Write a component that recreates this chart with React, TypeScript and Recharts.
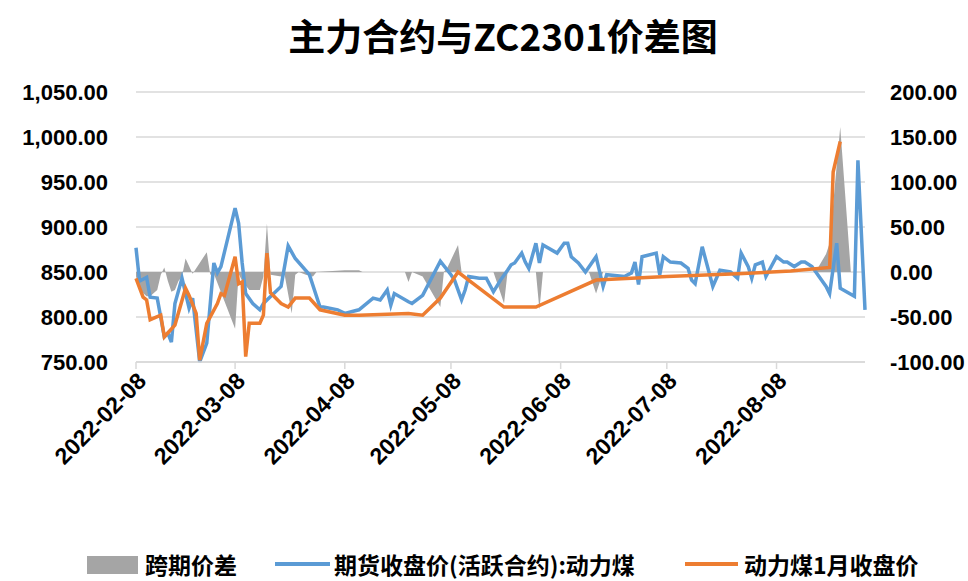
import React from 'react';
import { ComposedChart, Area, Line, XAxis, YAxis, CartesianGrid } from 'recharts';

// 期货收盘价(活跃合约):动力煤
const blueDates = [
  '02-08', '02-09', '02-11', '02-12', '02-14', '02-16', '02-17', '02-18', '02-19', '02-21',
  '02-23', '02-24', '02-26', '02-28', '03-02', '03-03', '03-04', '03-08', '03-09', '03-10',
  '03-11', '03-13', '03-15', '03-16', '03-17', '03-21', '03-23', '03-25', '03-29', '04-01',
  '04-02', '04-06', '04-08', '04-12', '04-16', '04-18', '04-20', '04-21', '04-22', '04-26',
  '04-27', '04-30', '05-05', '05-08', '05-09', '05-11', '05-12', '05-13', '05-16', '05-18',
  '05-20', '05-22', '05-24', '05-25', '05-26', '05-28', '05-29', '05-30', '06-01', '06-02',
  '06-03', '06-07', '06-09', '06-10', '06-11', '06-13', '06-15', '06-18', '06-20', '06-21',
  '06-26', '06-28', '06-29', '06-30', '07-01', '07-05', '07-06', '07-07', '07-09', '07-12',
  '07-14', '07-15', '07-16', '07-18', '07-21', '07-23', '07-26', '07-28', '07-29', '07-31',
  '08-01', '08-02', '08-04', '08-05', '08-08', '08-10', '08-11', '08-13', '08-15', '08-16',
  '08-18', '08-22', '08-23', '08-25', '08-26', '08-30', '08-31', '09-02',
];
const blueValues = [
  877, 840, 844, 822, 821, 778, 782, 772, 815, 843,
  810, 821, 750, 771, 860, 849, 856, 921, 904, 860,
  826, 815, 808, 815, 819, 834, 879, 865, 847, 811,
  811, 808, 804, 808, 821, 819, 830, 813, 826, 817,
  815, 824, 862, 847, 841, 819, 830, 845, 843, 843,
  828, 841, 852, 858, 860, 871, 861, 854, 882, 860,
  880, 871, 882, 882, 867, 860, 850, 867, 834, 847,
  845, 849, 861, 836, 867, 871, 847, 867, 861, 860,
  854, 841, 837, 878, 834, 852, 850, 843, 871, 856,
  843, 858, 861, 845, 867, 861, 861, 856, 861, 861,
  856, 834, 826, 882, 832, 823, 974, 808,
];

// 动力煤1月收盘价
const orangeDates = [
  '02-08', '02-10', '02-11', '02-12', '02-15', '02-16', '02-19', '02-22', '02-23', '02-25',
  '02-26', '02-28', '03-03', '03-04', '03-05', '03-08', '03-09', '03-10', '03-11', '03-12',
  '03-15', '03-16', '03-17', '03-18', '03-21', '03-23', '03-25', '03-29', '04-01', '04-08',
  '04-12', '04-26', '04-30', '05-05', '05-10', '05-23', '06-01', '06-18', '07-08', '07-28',
  '08-12', '08-23', '08-24', '08-26',
];
const orangeValues = [
  843, 822, 819, 797, 802, 778, 791, 832, 824, 804,
  752, 793, 815, 826, 824, 867, 837, 839, 756, 793,
  793, 802, 871, 827, 815, 811, 821, 821, 808, 802,
  802, 804, 802, 821, 850, 811, 811, 841, 845, 848,
  851, 855, 961, 995,
];

// 跨期价差
const spreadDates = [
  '02-08', '02-09', '02-11', '02-12', '02-14', '02-15', '02-16', '02-17', '02-18', '02-19',
  '02-20', '02-21', '02-22', '02-24', '02-28', '03-01', '03-02', '03-08', '03-09', '03-10',
  '03-12', '03-15', '03-16', '03-17', '03-18', '03-21', '03-22', '03-24', '03-25', '03-26',
  '03-28', '03-30', '03-31', '04-08', '04-12', '04-13', '04-25', '04-26', '04-27', '04-30',
  '05-05', '05-06', '05-07', '05-10', '05-11', '05-20', '05-23', '05-24', '06-01', '06-02',
  '06-03', '06-16', '06-18', '06-20', '08-19', '08-22', '08-23', '08-26', '08-29', '09-02',
];
const spreadValues = [
  -5, -20, -27, -27, -20, -3, 5, -10, -22, -20,
  -10, -5, 15, -2, 22, -3, -2, -63, -2, -10,
  -20, -20, -5, 54, -3, -5, -3, -46, -3, 0,
  -3, -5, 0, 2, 2, 0, 0, -11, 0, -5,
  -39, 0, 5, 30, 0, 0, -35, 0, 0, -42,
  0, 0, -24, 0, 0, 20, 32, 161, 0, 0,
];

const xTickDates = ['02-08', '03-08', '04-08', '05-08', '06-08', '07-08', '08-08'];
const leftTicks = [750, 800, 850, 900, 950, 1000, 1050];
const rightTicks = [-100, -50, 0, 50, 100, 150, 200];

const DAY = 86400000;
const START = Date.UTC(2022, 1, 8);
const toDay = (md: string) => {
  const [m, d] = md.split('-').map(Number);
  return Math.round((Date.UTC(2022, m - 1, d) - START) / DAY);
};
const fromDay = (n: number) => new Date(START + n * DAY).toISOString().slice(0, 10);

const buildRows = () => {
  const map = new Map<number, any>();
  const put = (dates: string[], values: number[], key: string) => {
    dates.forEach((md, i) => {
      const d = toDay(md);
      if (!map.has(d)) map.set(d, { d });
      map.get(d)[key] = values[i];
    });
  };
  put(spreadDates, spreadValues, 'spread');
  put(blueDates, blueValues, 'blue');
  put(orangeDates, orangeValues, 'orange');
  return Array.from(map.values()).sort((a, b) => a.d - b.d);
};

const rows = buildRows();
const fmt = (v: number) =>
  v.toLocaleString('en-US', { minimumFractionDigits: 2, maximumFractionDigits: 2 });

const BLUE = '#5B9BD5';
const ORANGE = '#ED7D31';
const GREY = '#A5A5A5';
const NUM_FONT = "'Liberation Sans', Arial, sans-serif";
const CJK_FONT = "'Noto Sans CJK SC', 'Liberation Sans', sans-serif";

const tickStyle = { fill: '#000', fontSize: 22, fontWeight: 'bold', fontFamily: NUM_FONT };
const xTickStyle = { ...tickStyle, fontSize: 23 };

const legendText: React.CSSProperties = {
  fontFamily: CJK_FONT,
  fontSize: 23,
  fontWeight: 'bold',
  lineHeight: '24px',
  color: '#000',
  whiteSpace: 'nowrap',
};

export default function App() {
  return (
    <div style={{ position: 'absolute', left: 0, top: 0, width: 968, height: 581, background: '#fff', overflow: 'hidden' }}>
      <div
        style={{
          position: 'absolute',
          left: 503,
          top: 15,
          transform: 'translateX(-50%)',
          fontFamily: CJK_FONT,
          fontSize: 37,
          fontWeight: 'bold',
          lineHeight: '40px',
          whiteSpace: 'nowrap',
        }}
      >
        主力合约与ZC2301价差图
      </div>
      <ComposedChart
        width={968}
        height={581}
        data={rows}
        margin={{ top: 92, right: 0, bottom: 0, left: 0 }}
      >
        <CartesianGrid vertical={false} stroke="#D9D9D9" strokeWidth={1.5} yAxisId="left" />
        <XAxis
          type="number"
          dataKey="d"
          domain={[0, 206]}
          ticks={xTickDates.map(toDay)}
          tickFormatter={fromDay}
          angle={-45}
          textAnchor="end"
          height={219}
          stroke="#D9D9D9"
          strokeWidth={1.5}
          tickSize={7}
          tickMargin={2}
          tick={xTickStyle}
          interval={0}
        />
        <YAxis
          yAxisId="left"
          width={136}
          domain={[750, 1050]}
          ticks={leftTicks}
          tickFormatter={fmt}
          axisLine={false}
          tickLine={false}
          tickSize={0}
          tickMargin={28}
          tick={tickStyle}
        />
        <YAxis
          yAxisId="right"
          orientation="right"
          width={103}
          domain={[-100, 200]}
          ticks={rightTicks}
          tickFormatter={fmt}
          axisLine={false}
          tickLine={false}
          tickSize={0}
          tickMargin={25}
          tick={tickStyle}
        />
        <Area
          yAxisId="right"
          dataKey="spread"
          type="linear"
          fill={GREY}
          fillOpacity={1}
          stroke="none"
          baseValue={0}
          connectNulls
          isAnimationActive={false}
        />
        <Line
          yAxisId="left"
          dataKey="blue"
          type="linear"
          stroke={BLUE}
          strokeWidth={3.5}
          dot={false}
          connectNulls
          isAnimationActive={false}
        />
        <Line
          yAxisId="left"
          dataKey="orange"
          type="linear"
          stroke={ORANGE}
          strokeWidth={3.5}
          dot={false}
          connectNulls
          isAnimationActive={false}
        />
      </ComposedChart>
      <div style={{ position: 'absolute', left: 87, top: 556, width: 51, height: 18, background: GREY }} />
      <div style={{ ...legendText, position: 'absolute', left: 145, top: 552 }}>跨期价差</div>
      <div style={{ position: 'absolute', left: 275, top: 562, width: 55, height: 4, background: BLUE }} />
      <div style={{ ...legendText, position: 'absolute', left: 334, top: 552 }}>期货收盘价(活跃合约):动力煤</div>
      <div style={{ position: 'absolute', left: 685, top: 562, width: 53, height: 4, background: ORANGE }} />
      <div style={{ ...legendText, position: 'absolute', left: 744, top: 552 }}>动力煤1月收盘价</div>
    </div>
  );
}
